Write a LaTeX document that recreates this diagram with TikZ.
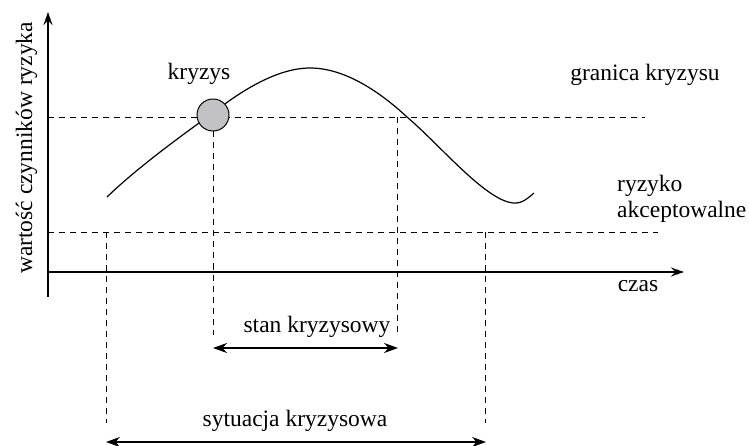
\documentclass[tikz,border=0pt]{standalone}
\usepackage{fontspec}
\setmainfont{Liberation Serif}
\usetikzlibrary{arrows.meta}
\definecolor{crisisgray}{HTML}{C2C2C4}
\tikzset{
  lbl/.style={inner sep=0pt, font=\fontsize{23.5}{27}\selectfont},
  axisline/.style={line width=1.3pt, -{Stealth[length=13pt,width=9pt]}},
  guide/.style={line width=0.9pt, dash pattern=on 6pt off 5pt},
  span/.style={line width=1.7pt, {Stealth[length=14pt,width=10pt]}-{Stealth[length=14pt,width=10pt]}},
  curveline/.style={line width=1.2pt},
}
\begin{document}
\begin{tikzpicture}[x=1pt,y=-1pt]
\useasboundingbox (0,0) rectangle (749,446);
% key coordinates
\coordinate (ybot) at (48,297);
\coordinate (ytop) at (48,12);
\coordinate (xleft) at (48,272);
\coordinate (xright) at (684,272);
\coordinate (hiL) at (48,117);
\coordinate (hiR) at (645,117);
\coordinate (loL) at (48,232);
\coordinate (loR) at (658,232);
\coordinate (v1t) at (106,232);
\coordinate (v1b) at (106,423);
\coordinate (v2b) at (213,335);
\coordinate (v3t) at (397,117);
\coordinate (v3b) at (397,335);
\coordinate (v4t) at (485,232);
\coordinate (v4b) at (485,423);
\coordinate (a1l) at (213,348);
\coordinate (a1r) at (398,348);
\coordinate (a2l) at (106,442);
\coordinate (a2r) at (486,442);
% axes
\draw[axisline] (ybot) -- (ytop);
\draw[axisline] (xleft) -- (xright);
% guide lines
\draw[guide] (hiL) -- (hiR);
\draw[guide] (loL) -- (loR);
\draw[guide] (v1t) -- (v1b);
\draw[guide] (v3t) -- (v3b);
\draw[guide] (v4t) -- (v4b);
% curve
\draw[curveline] (107,197) .. controls (138,167) and (185,133) .. (213,113)
  .. controls (242,90) and (278,68) .. (310,68)
  .. controls (345,68) and (380,92) .. (407,117)
  .. controls (440,145) and (485,200) .. (513,203)
  .. controls (522,204) and (528,198) .. (534,193);
% crisis point
\node[circle, draw, line width=1pt, fill=crisisgray, minimum size=32pt, inner sep=0pt] (K) at (213,115) {};
\draw[guide] (K.south) -- (v2b);
% spans
\draw[span] (a1l) -- (a1r);
\draw[span] (a2l) -- (a2r);
% labels
\node[lbl, anchor=base] (tk) at (199,80) {kryzys};
\node[lbl, anchor=base] (tg) at (645,81) {granica kryzysu};
\node[lbl, anchor=base west] (tr1) at (617,192) {ryzyko};
\node[lbl, anchor=base west] (tr2) at (617,218) {akceptowalne};
\node[lbl, anchor=base] (tc) at (638,291) {czas};
\node[lbl, anchor=base] (ts) at (317,332) {stan kryzysowy};
\node[lbl, anchor=base] (tsk) at (295,426) {sytuacja kryzysowa};
\node[lbl, anchor=base, rotate=90] (ty) at (32,148) {wartość czynników ryzyka};
\end{tikzpicture}
\end{document}
